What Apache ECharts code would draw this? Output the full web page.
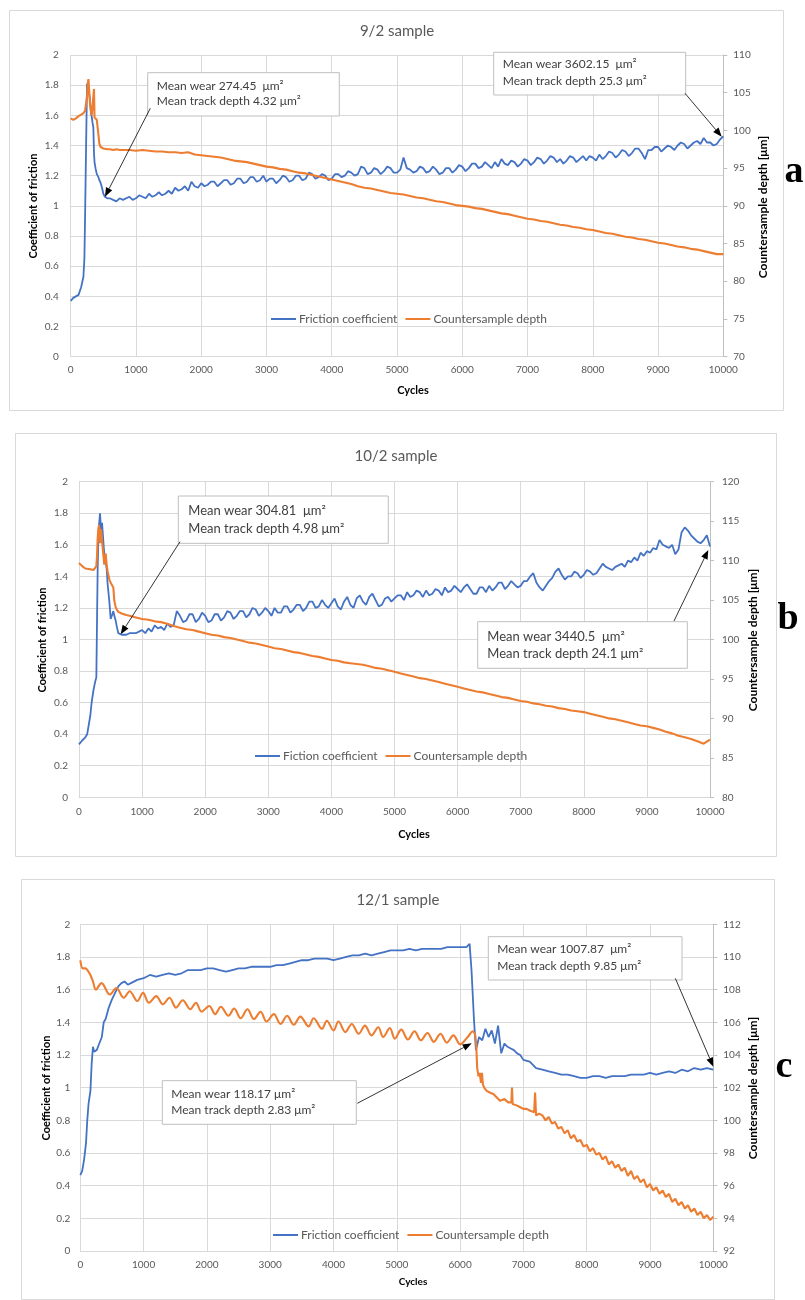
<!DOCTYPE html>
<html><head><meta charset="utf-8">
<script src="https://cdn.jsdelivr.net/npm/echarts@6/dist/echarts.min.js"></script>
<style>html,body{margin:0;padding:0;background:#fff}#c{width:805px;height:1300px}</style>
</head><body><div id="c"></div>
<script>
// ================= DATA =================
const titles = ['9/2 sample', '10/2 sample', '12/1 sample'];
const panelLetters = ['a', 'b', 'c'];
const frictionNames = ['Friction coefficient', 'Fiction coefficient', 'Friction coefficient'];
const depthName = 'Countersample depth';
const leftAxisName = 'Coefficient of friction';
const rightAxisName = 'Countersample depth [μm]';
const xAxisName = 'Cycles';
const xTicks = [0, 1000, 2000, 3000, 4000, 5000, 6000, 7000, 8000, 9000, 10000];
const rightRanges = [[70, 110, 5], [80, 120, 5], [92, 112, 2]];
const notes = [
  ['Mean wear 274.45  μm²', 'Mean track depth 4.32 μm²'],
  ['Mean wear 3602.15  μm²', 'Mean track depth 25.3 μm²'],
  ['Mean wear 304.81  μm²', 'Mean track depth 4.98 μm²'],
  ['Mean wear 3440.5  μm²', 'Mean track depth 24.1 μm²'],
  ['Mean wear 118.17 μm²', 'Mean track depth 2.83 μm²'],
  ['Mean wear 1007.87  μm²', 'Mean track depth 9.85 μm²']
];

// shared sampling grids (cycles)
const CYCLES_100 = [1000,1100,1200,1300,1400,1500,1600,1700,1800,1900,
  2000,2100,2200,2300,2400,2500,2600,2700,2800,2900,
  3000,3100,3200,3300,3400,3500,3600,3700,3800,3900,
  4000,4100,4200,4300,4400,4500,4600,4700,4800,4900,
  5000,5100,5200,5300,5400,5500,5600,5700,5800,5900,
  6000,6100,6200,6300,6400,6500,6600,6700,6800,6900,
  7000,7100,7200,7300,7400,7500,7600,7700,7800,7900,
  8000,8100,8200,8300,8400,8500,8600,8700,8800,8900,
  9000,9100,9200,9300,9400,9500,9600,9700,9800,9900,10000];
const CYCLES_50 = [1000,1050,1100,1150,1200,1250,1300,1350,1400,1450,
  1500,1550,1600,1650,1700,1750,1800,1850,1900,1950,
  2000,2050,2100,2150,2200,2250,2300,2350,2400,2450,
  2500,2550,2600,2650,2700,2750,2800,2850,2900,2950,
  3000,3050,3100,3150,3200,3250,3300,3350,3400,3450,
  3500,3550,3600,3650,3700,3750,3800,3850,3900,3950,
  4000,4050,4100,4150,4200,4250,4300,4350,4400,4450,
  4500,4550,4600,4650,4700,4750,4800,4850,4900,4950,
  5000,5050,5100,5150,5200,5250,5300,5350,5400,5450,
  5500,5550,5600,5650,5700,5750,5800,5850,5900,5950,
  6000,6050,6100,6150,6200,6250,6300,6350,6400,6450,
  6500,6550,6600,6650,6700,6750,6800,6850,6900,6950,
  7000,7050,7100,7150,7200,7250,7300,7350,7400,7450,
  7500,7550,7600,7650,7700,7750,7800,7850,7900,7950,
  8000,8050,8100,8150,8200,8250,8300,8350,8400,8450,
  8500,8550,8600,8650,8700,8750,8800,8850,8900,8950,
  9000,9050,9100,9150,9200,9250,9300,9350,9400,9450,
  9500,9550,9600,9650,9700,9750,9800,9850,9900,9950,10000];

// ---- panel a (9/2) ----
const A_EARLY_X = [0,40,80,120,160,195,210,220,235,250, 262,272,284,296,310,322,335,347,357,365,
  380,400,425,440,460,480,500,525,560,600, 650,700,750,800,900];
const A_FRICTION = [0.37,0.39,0.40,0.41,0.46,0.53,0.65,0.92,1.37,1.81, 1.80,1.82,1.74,1.70,1.62,1.59,1.55,1.52,1.35,1.29,
  1.25,1.21,1.19,1.17,1.15,1.12,1.08,1.06,1.05,1.05, 1.04,1.03,1.05,1.04,1.06, 1.04,
  1.05,1.07,1.06,1.05,1.08,1.06,1.07,1.09,1.07,1.08,
  1.10,1.08,1.12,1.10,1.11,1.13,1.10,1.16,1.13,1.12,
  1.15,1.13,1.14,1.16,1.16,1.13,1.15,1.17,1.17,1.14,
  1.15,1.18,1.18,1.15,1.16,1.19,1.19,1.16,1.17,1.20,
  1.16,1.18,1.18,1.15,1.17,1.20,1.19,1.16,1.17,1.20,
  1.20,1.17,1.18,1.22,1.21,1.18,1.19,1.21,1.20,1.17,
  1.18,1.21,1.21,1.19,1.20,1.23,1.22,1.20,1.21,1.26,
  1.25,1.21,1.22,1.25,1.24,1.21,1.23,1.26,1.25,1.22,
  1.22,1.24,1.32,1.25,1.24,1.22,1.23,1.26,1.25,1.22,
  1.23,1.26,1.24,1.21,1.22,1.25,1.25,1.22,1.24,1.27,
  1.26,1.23,1.25,1.28,1.28,1.25,1.26,1.29,1.27,1.25,
  1.29,1.26,1.31,1.28,1.27,1.30,1.29,1.26,1.28,1.31,
  1.30,1.27,1.29,1.32,1.31,1.28,1.30,1.33,1.32,1.29,
  1.31,1.28,1.30,1.33,1.32,1.29,1.31,1.33,1.30,1.33,
  1.32,1.30,1.34,1.31,1.33,1.36,1.35,1.32,1.34,1.37,
  1.36,1.33,1.35,1.38,1.38,1.35,1.31,1.37,1.37,1.39,
  1.39,1.36,1.38,1.40,1.39,1.37,1.40,1.42,1.41,1.38,
  1.40,1.42,1.43,1.41,1.45,1.42,1.42,1.40,1.41,1.44,1.46];
const A_DEPTH = [101.6,101.4,101.6,101.9,102.1,102.3,102.4,102.6,102.8,104.5, 106.3,106.8,106.9,103.5,102.6,102.0,101.8,101.8,105.5,101.7,
  101.5,101.4,101.3,98.2,97.8,97.7,97.6,97.6,97.5,97.5, 97.4,97.5,97.4,97.4,97.4,
  97.3,97.4,97.3,97.2,97.2,97.1,97.1,97.0,97.1,96.8,
  96.7,96.6,96.5,96.4,96.2,96.0,95.9,95.8,95.6,95.4,
  95.2,95.1,94.9,94.8,94.6,94.4,94.3,94.1,93.9,93.7,
  93.5,93.3,93.1,92.9,92.6,92.4,92.3,92.1,91.9,91.7,
  91.6,91.5,91.3,91.1,91.0,90.8,90.6,90.5,90.3,90.1,
  90.0,89.9,89.7,89.6,89.4,89.2,89.0,88.9,88.7,88.5,
  88.3,88.2,88.0,87.9,87.7,87.5,87.4,87.2,87.1,86.9,
  86.8,86.6,86.4,86.3,86.1,85.9,85.8,85.6,85.5,85.3,
  85.1,85.0,84.8,84.6,84.5,84.3,84.2,84.0,83.8,83.6,83.6];

// ---- panel b (10/2) ----
const B_EARLY_X = [0,50,100,130,180,200,230,255,275,285, 296,306,317,333,349,365,386,401,423,438,
  454,481,502,528,544,560,581,600,623,676, 750,800,900];
const B_FRICTION = [0.335,0.36,0.38,0.40,0.52,0.60,0.68,0.73,0.76,1.10, 1.45,1.62,1.72,1.80,1.70,1.74,1.62,1.54,1.49,1.45,
  1.35,1.24,1.13,1.16,1.18,1.15,1.12,1.08,1.04,1.03, 1.03,1.04,1.04, 1.05,
  1.06,1.04,1.07,1.05,1.09,1.07,1.08,1.06,1.10,1.08,
  1.09,1.18,1.15,1.11,1.12,1.16,1.16,1.11,1.13,1.17,
  1.15,1.11,1.12,1.16,1.16,1.12,1.14,1.18,1.17,1.13,
  1.15,1.18,1.18,1.14,1.16,1.20,1.19,1.15,1.17,1.20,
  1.18,1.15,1.20,1.17,1.17,1.21,1.21,1.17,1.19,1.22,
  1.22,1.18,1.20,1.24,1.24,1.20,1.21,1.25,1.22,1.20,
  1.23,1.26,1.21,1.19,1.24,1.27,1.22,1.20,1.26,1.28,
  1.24,1.22,1.27,1.29,1.25,1.21,1.22,1.26,1.27,1.24,
  1.26,1.28,1.28,1.25,1.30,1.27,1.28,1.31,1.30,1.27,
  1.31,1.28,1.29,1.32,1.31,1.28,1.33,1.30,1.31,1.34,
  1.32,1.30,1.33,1.35,1.32,1.29,1.29,1.33,1.33,1.30,
  1.34,1.31,1.33,1.36,1.36,1.32,1.34,1.37,1.35,1.33,
  1.34,1.37,1.37,1.40,1.42,1.36,1.33,1.31,1.34,1.37,
  1.39,1.43,1.45,1.41,1.38,1.40,1.40,1.43,1.42,1.39,
  1.41,1.44,1.43,1.41,1.42,1.45,1.48,1.46,1.45,1.44,
  1.46,1.47,1.48,1.46,1.50,1.49,1.52,1.50,1.55,1.53,
  1.56,1.55,1.58,1.57,1.63,1.60,1.59,1.58,1.60,1.54,
  1.57,1.68,1.71,1.69,1.66,1.64,1.62,1.61,1.63,1.66,1.59];
const B_DEPTH = [109.7,109.3,109.0,109.0,108.9,108.9,108.8,108.8,109.3,110.5, 112.8,114.0,114.5,112.2,114.0,112.5,110.7,109.5,110.9,109.5,
  108.6,107.6,107.2,107.1,106.6,104.9,104.1,103.8,103.5,103.3, 103.1,103.0,102.8,
  102.6,102.5,102.3,102.2,102.0,101.7,101.5,101.3,101.2,101.0,
  100.8,100.6,100.5,100.3,100.2,100.0,99.8,99.6,99.5,99.3,
  99.1,98.9,98.8,98.6,98.4,98.3,98.1,97.9,97.8,97.6,
  97.4,97.3,97.1,97.0,96.9,96.8,96.6,96.4,96.3,96.1,
  95.9,95.7,95.5,95.3,95.1,95.0,94.8,94.6,94.4,94.2,
  94.0,93.8,93.6,93.4,93.3,93.1,92.9,92.7,92.6,92.4,
  92.2,92.1,91.9,91.8,91.6,91.5,91.3,91.2,91.0,90.9,
  90.8,90.6,90.4,90.2,90.0,89.9,89.7,89.5,89.3,89.1,
  89.0,88.8,88.6,88.3,88.1,87.8,87.6,87.4,87.1,86.8,87.3];

// ---- panel c (12/1) ----
const C_FX = [0,30,60,90,110,130,160,180,200,220, 260,300,340,370,400,450,500,550,600,650, 700,750,800,900,
  1000,1100,1200,1300,1400,1500,1600,1700,1800,1900,
  2000,2100,2200,2300,2400,2500,2600,2700,2800,2900,
  3000,3100,3200,3300,3400,3500,3600,3700,3800,3900,
  4000,4100,4200,4300,4400,4500,4600,4700,4800,4900,
  5000,5100,5200,5300,5400,5500,5600,5700,5800,5900,
  6000,6100,
  6150,6180,6220,6250,6300,6350,6400,6450,6500,6550,6600,6650,6700,6750,6800,6850,6900,6950,
  7000,7100,7200,7300,7400,7500,7600,7700,7800,7900,
  8000,8100,8200,8300,8400,8500,8600,8700,8800,8900,
  9000,9100,9200,9300,9400,9500,9600,9700,9800,9900,10000];
const C_FRICTION = [0.465,0.49,0.56,0.66,0.80,0.90,0.98,1.15,1.25,1.22, 1.23,1.27,1.31,1.40,1.42,1.49,1.54,1.58,1.62,1.64, 1.65,1.63,1.64,1.66,
  1.67,1.69,1.68,1.69,1.70,1.69,1.70,1.72,1.72,1.72,
  1.73,1.73,1.72,1.71,1.72,1.73,1.73,1.74,1.74,1.74,
  1.74,1.75,1.75,1.76,1.77,1.78,1.78,1.79,1.79,1.79,
  1.78,1.79,1.80,1.81,1.81,1.82,1.81,1.82,1.83,1.84,
  1.84,1.84,1.85,1.84,1.85,1.85,1.85,1.85,1.86,1.86,
  1.86,1.86,
  1.88,1.72,1.41,1.23,1.31,1.29,1.36,1.31,1.35,1.27,1.38,1.21,1.27,1.25,1.24,1.23,1.21,1.20,
  1.17,1.16,1.12,1.11,1.10,1.09,1.08,1.08,1.07,1.06,
  1.06,1.07,1.07,1.06,1.07,1.07,1.07,1.08,1.08,1.08,
  1.09,1.08,1.09,1.10,1.09,1.11,1.10,1.12,1.11,1.12,1.11];
// depth before the step (wavy part)
const C_DX1 = [0,40,80,120,160,200,246,335,466,570, 686,780,900,990,1084,1200,1304,1408,1513,1618,
  1738,1827,1916,2037,2131,2220,2340,2430,2534,2640, 2743,2848,2942,3058,3162,3267,3372,3476,3607,3686,
  3817,3895,4000,4078,4188,4288,4398,4497,4600,4707, 4785,4890,4969,5070,5175,5280,5380,5485,5585,5690,
  5790,5895,6000,6120,6200,6240];
const C_DEPTH1 = [109.8,109.3,109.3,109.15,108.9,108.5,108.0,108.4,107.7,108.1, 107.5,107.9,107.3,107.8,107.2,107.6,107.1,107.5,106.9,107.35,
  106.8,107.2,106.65,107.0,106.5,106.95,106.4,106.85,106.25,106.8, 106.2,106.65,106.05,106.5,105.9,106.4,105.85,106.35,105.75,106.25,
  105.6,106.1,105.5,106.05,105.4,105.9,105.3,105.8,105.2,105.7, 105.1,105.65,105.0,105.55,104.95,105.45,104.9,105.35,104.8,105.3,
  104.75,105.2,104.65,105.1,105.45,105.2];
// depth after the step (noisy part)
const C_DX2 = [6240,6255,6270,6290,6310,6330,6345,6360,6380,6420, 6470,6530,6580,6630,6700,6760,6810,6820,6830,6900,
  6950,7000,7050,7100,7170,7185,7200,7250,7300,7350, 7400,7450,7500,7550,7600,7650,7700,7750,7800,7850,
  7900,7950,8000,8050,8100,8150,8200,8250,8300,8350, 8400,8450,8500,8550,8600,8650,8700,8750,8800,8850,
  8900,8950,9000,9050,9100,9150,9200,9250,9300,9350, 9400,9450,9500,9550,9600,9650,9700,9750,9800,9850,
  9900,9950,10000];
const C_DEPTH2 = [105.2,104.6,103.2,102.7,102.9,102.3,102.9,102.2,102.0,101.8, 101.7,101.6,101.4,101.2,101.3,101.1,101.1,102.0,101.0,100.9,
  100.8,100.7,100.7,100.6,100.5,101.7,100.3,100.4,100.3,100.0, 100.2,99.8,99.9,99.5,99.6,99.2,99.4,98.9,99.1,98.7,
  98.8,98.4,98.5,98.1,98.3,97.9,98.0,97.6,97.8,97.3, 97.5,97.1,97.3,96.9,97.1,96.6,96.9,96.4,96.6,96.2,
  96.4,95.9,96.1,95.7,95.9,95.5,95.7,95.3,95.5,95.0, 95.2,94.8,95.0,94.6,94.8,94.4,94.6,94.2,94.4,94.0,
  94.2,93.9,94.1];

const A_FX = A_EARLY_X.concat([950], CYCLES_50);
const A_DX = A_EARLY_X.concat(CYCLES_100);
const B_FX = B_EARLY_X.concat([950], CYCLES_50);
const B_DX = B_EARLY_X.concat(CYCLES_100);

// ================= STYLE / LAYOUT =================
const BLUE = '#4472C4', ORANGE = '#ED7D31';
const GRID_C = '#d9d9d9', TXT = '#595959';
const FONT = 'Lato, "Liberation Sans", sans-serif';
const grids = [
  {left: 70.7, top: 55, width: 652.6, height: 301.7},
  {left: 79, top: 481.7, width: 631, height: 315.6},
  {left: 80.3, top: 924.3, width: 633, height: 326.7}
];
const boxes = [[9.5, 10.5, 774, 400], [15.5, 433.5, 761, 423], [21.5, 879.5, 753, 420]];
const titlePos = [[397, 31], [396, 456], [398, 900]];
const letterPos = [[794, 172], [788, 619], [784, 1067]];
const leftNamePos = [[33, 206], [42, 640], [46, 1088]];
const rightNamePos = [[763, 207], [753, 640], [753, 1088]];
const cyclesPos = [[413, 390], [414, 834], [413, 1282]];
const legendPos = [[266, 315], [250, 752], [268, 1231]];
const noteBoxes = [
  {x: 147.7, y: 72.7, w: 191.6, h: 43.3, tx: 156.7, l1: 86, l2: 101, fs: 12},
  {x: 493.7, y: 52.3, w: 192, h: 42.7, tx: 502.7, l1: 64.3, l2: 80.7, fs: 12},
  {x: 178.3, y: 496, w: 210, h: 47.3, tx: 188.3, l1: 510.7, l2: 528.7, fs: 13},
  {x: 477.7, y: 621.7, w: 209.6, h: 46.6, tx: 487.3, l1: 636.7, l2: 653.7, fs: 13},
  {x: 162.3, y: 1080.7, w: 194, h: 43.6, tx: 171.3, l1: 1094, l2: 1110, fs: 12},
  {x: 488.3, y: 936.7, w: 193.7, h: 43.3, tx: 497.3, l1: 949, l2: 965.7, fs: 12}
];
const arrows = [
  [150.3, 108.3, 105, 196.7], [685, 93.3, 721.7, 136.7],
  [180, 541.7, 120.7, 634.3], [674, 621, 708.3, 550],
  [357.3, 1103.3, 471.7, 1043.3], [675.3, 978.3, 713.3, 1066.7]
];

function pairs(xs, ys) { const n = Math.min(xs.length, ys.length); const out = []; for (let i = 0; i < n; i++) out.push([xs[i], ys[i]]); return out; }

const xAxes = [], yAxes = [], series = [], legends = [], graphics = [];
const panelData = [
  {f: [A_FX, A_FRICTION], d: [[A_DX, A_DEPTH]]},
  {f: [B_FX, B_FRICTION], d: [[B_DX, B_DEPTH]]},
  {f: [C_FX, C_FRICTION], d: [[C_DX1, C_DEPTH1], [C_DX2, C_DEPTH2]]}
];
for (let p = 0; p < 3; p++) {
  xAxes.push({
    type: 'value', gridIndex: p, min: 0, max: 10000, interval: 1000,
    axisLine: {show: true, lineStyle: {color: GRID_C, width: 1}},
    axisTick: {show: false},
    splitLine: {show: true, lineStyle: {color: GRID_C, width: 1}},
    axisLabel: {color: TXT, fontSize: 10, fontFamily: FONT, margin: p === 0 ? 8 : 9,
      formatter: v => xTicks.indexOf(v) >= 0 ? String(v) : ''}
  });
  yAxes.push({
    type: 'value', gridIndex: p, position: 'left', min: 0, max: 2, interval: 0.2,
    axisLine: {show: false}, axisTick: {show: false},
    splitLine: {show: true, lineStyle: {color: GRID_C, width: 1}},
    axisLabel: {color: TXT, fontSize: 10, fontFamily: FONT, margin: [12, 11, 10][p]}
  });
  const rr = rightRanges[p];
  yAxes.push({
    type: 'value', gridIndex: p, position: 'right', min: rr[0], max: rr[1], interval: rr[2],
    axisLine: {show: true, lineStyle: {color: '#bfbfbf', width: 1}},
    axisTick: {show: true, length: 4, lineStyle: {color: '#bfbfbf'}},
    splitLine: {show: false},
    axisLabel: {color: TXT, fontSize: 10, fontFamily: FONT, margin: [10, 12, 10][p]}
  });
  const pd = panelData[p];
  series.push({
    name: frictionNames[p], type: 'line', xAxisIndex: p, yAxisIndex: 2 * p,
    data: pairs(pd.f[0], pd.f[1]), symbol: 'none', showSymbol: false,
    lineStyle: {color: BLUE, width: 1.8}, itemStyle: {color: BLUE}, z: 3
  });
  pd.d.forEach((dd, k) => {
    series.push({
      name: depthName, type: 'line', xAxisIndex: p, yAxisIndex: 2 * p + 1,
      data: pairs(dd[0], dd[1]), symbol: 'none', showSymbol: false,
      smooth: (p === 2 && k === 0) ? 0.35 : false,
      lineStyle: {color: ORANGE, width: 2.1}, itemStyle: {color: ORANGE}, z: 4
    });
  });
  legends.push({
    left: legendPos[p][0], top: legendPos[p][1] - 7, orient: 'horizontal',
    icon: 'rect', itemWidth: 25, itemHeight: 2, itemGap: 8,
    data: [frictionNames[p], depthName],
    textStyle: {color: TXT, fontSize: 12, fontFamily: FONT, padding: [0, 0, 0, -2]},
    selectedMode: false
  });
  const b = boxes[p];
  graphics.push({type: 'rect', shape: {x: b[0], y: b[1], width: b[2], height: b[3]},
    style: {fill: 'none', stroke: GRID_C, lineWidth: 1}, z: -10, silent: true});
  graphics.push({type: 'text', x: titlePos[p][0], y: titlePos[p][1],
    style: {text: titles[p], fill: TXT, font: '15px ' + FONT, textAlign: 'center', textVerticalAlign: 'middle'}});
  graphics.push({type: 'text', x: letterPos[p][0], y: letterPos[p][1],
    style: {text: panelLetters[p], fill: '#000', font: 'bold 38px "Liberation Serif", "DejaVu Serif", serif', textAlign: 'center', textVerticalAlign: 'middle'}});
  graphics.push({type: 'text', x: leftNamePos[p][0], y: leftNamePos[p][1], rotation: Math.PI / 2,
    style: {text: leftAxisName, fill: '#000', font: 'bold 11px ' + FONT, textAlign: 'center', textVerticalAlign: 'middle'}});
  graphics.push({type: 'text', x: rightNamePos[p][0], y: rightNamePos[p][1], rotation: Math.PI / 2,
    style: {text: rightAxisName, fill: '#000', font: 'bold 12px ' + FONT, textAlign: 'center', textVerticalAlign: 'middle'}});
  graphics.push({type: 'text', x: cyclesPos[p][0], y: cyclesPos[p][1],
    style: {text: xAxisName, fill: '#000', font: 'bold ' + (p === 2 ? 10 : 11) + 'px ' + FONT, textAlign: 'center', textVerticalAlign: 'middle'}});
}
noteBoxes.forEach((nb, i) => {
  graphics.push({type: 'rect', shape: {x: nb.x, y: nb.y, width: nb.w, height: nb.h},
    style: {fill: '#fff', stroke: '#bfbfbf', lineWidth: 1}, z: 20});
  graphics.push({type: 'text', x: nb.tx, y: nb.l1, z: 21,
    style: {text: notes[i][0], fill: '#404040', font: nb.fs + 'px ' + FONT, textAlign: 'left', textVerticalAlign: 'middle'}});
  graphics.push({type: 'text', x: nb.tx, y: nb.l2, z: 21,
    style: {text: notes[i][1], fill: '#404040', font: nb.fs + 'px ' + FONT, textAlign: 'left', textVerticalAlign: 'middle'}});
});
arrows.forEach(a => {
  const [x1, y1, x2, y2] = a;
  const ang = Math.atan2(y2 - y1, x2 - x1), L = 9, W = 3.5;
  const bx = x2 - L * Math.cos(ang), by = y2 - L * Math.sin(ang);
  const px = -Math.sin(ang) * W, py = Math.cos(ang) * W;
  graphics.push({type: 'line', shape: {x1: x1, y1: y1, x2: bx, y2: by}, style: {stroke: '#000', lineWidth: 0.8}, z: 22});
  graphics.push({type: 'polygon', shape: {points: [[x2, y2], [bx + px, by + py], [bx - px, by - py]]}, style: {fill: '#000'}, z: 22});
});

const chart = echarts.init(document.getElementById('c'), null, {renderer: 'canvas'});
chart.setOption({
  animation: false,
  backgroundColor: '#fff',
  textStyle: {fontFamily: FONT},
  grid: grids.map(g => Object.assign({outerBoundsMode: 'none', containLabel: false}, g)),
  xAxis: xAxes,
  yAxis: yAxes,
  legend: legends,
  series: series,
  graphic: {elements: graphics}
});
</script>
</body></html>
